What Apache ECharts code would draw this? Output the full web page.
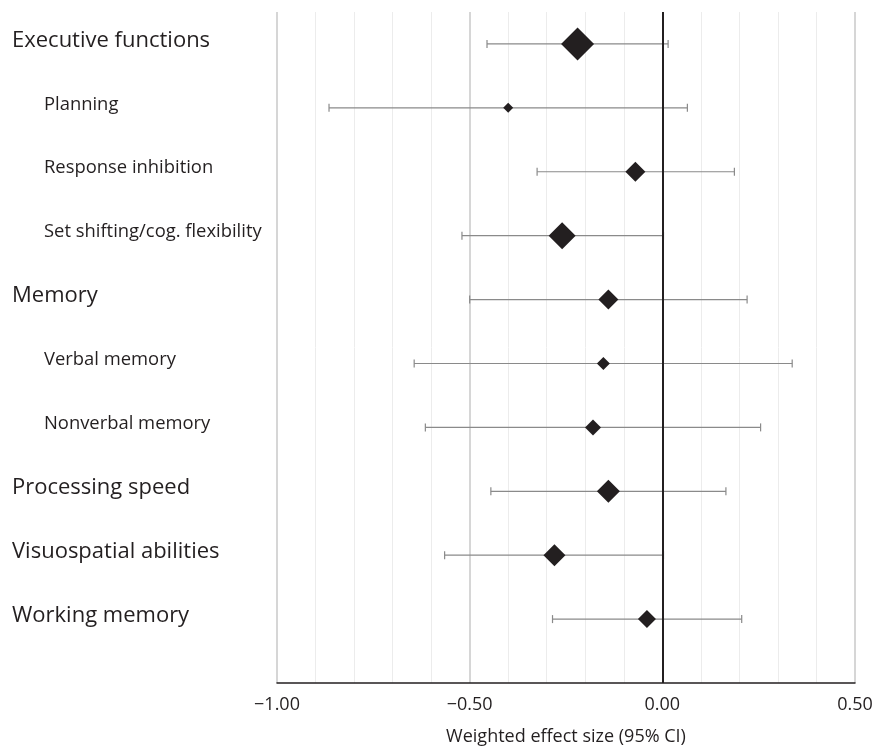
<!DOCTYPE html>
<html><head><meta charset="utf-8">
<script src="https://cdn.jsdelivr.net/npm/echarts@6/dist/echarts.min.js"></script>
<style>html,body{margin:0;padding:0;background:#fff}#c{width:875px;height:746px}</style>
</head><body><div id="c"></div>
<script>
const categories = ['Executive functions','Planning','Response inhibition','Set shifting/cog. flexibility','Memory','Verbal memory','Nonverbal memory','Processing speed','Visuospatial abilities','Working memory'];
const isSub = [false,true,true,true,false,true,true,false,false,false];
const effect = [-0.22,-0.40,-0.07,-0.26,-0.14,-0.153,-0.18,-0.14,-0.28,-0.04];
const ciLow  = [-0.455,-0.865,-0.325,-0.52,-0.50,-0.644,-0.615,-0.445,-0.565,-0.285];
const ciHigh = [0.015,0.065,0.187,0.003,0.22,0.337,0.255,0.165,0.003,0.206];
const weight = [33,10,20,27,20,13,16,23,22,18];
const xTicks = [-1.0,-0.5,0.0,0.5];

const font = '"Open Sans", sans-serif';
const ebData = categories.map((c,i)=>[ciLow[i],ciHigh[i],i+1]);
const ptData = categories.map((c,i)=>({value:[effect[i],i+1],symbolSize:[weight[i],weight[i]]}));

const chart = echarts.init(document.getElementById('c'));
chart.setOption({
  animation:false,
  grid:{left:277,right:20,top:12,bottom:63,containLabel:false,outerBoundsMode:'none'},
  xAxis:{type:'value',min:xTicks[0],max:xTicks[xTicks.length-1],interval:0.5,
    axisLine:{show:true,onZero:false,lineStyle:{color:'#231f20',width:1.5}},
    axisTick:{show:false},
    axisLabel:{color:'#231f20',fontSize:18,fontFamily:font,margin:13,
      formatter:v=>(v<0?'\u2212':'')+Math.abs(v).toFixed(2)},
    splitLine:{show:true,lineStyle:{color:'#c8c8c8',width:1.5}},
    minorTick:{show:false,splitNumber:5},
    minorSplitLine:{show:true,lineStyle:{color:'#ececec',width:1}},
    name:'Weighted effect size (95% CI)',nameLocation:'middle',nameGap:45,
    nameTextStyle:{color:'#231f20',fontSize:18,fontFamily:font}},
  yAxis:{type:'value',inverse:true,min:0.5,max:11,interval:0.5,
    axisLine:{show:false},axisTick:{show:false},splitLine:{show:false},
    axisLabel:{show:true,align:'left',margin:265,
      formatter:v=>{ if(!Number.isInteger(v)||v<1||v>categories.length) return '';
        const i=v-1; return isSub[i]?'{s|'+categories[i]+'}':'{m|'+categories[i]+'}';},
      rich:{m:{fontSize:22,fontFamily:font,color:'#231f20',padding:[0,0,7,0]},
            s:{fontSize:18.4,fontFamily:font,color:'#231f20',padding:[0,0,7,32]}}}},
  series:[
    {type:'custom',data:ebData,encode:{x:[0,1],y:2},z:2,
     renderItem:(params,api)=>{
       const a=api.coord([api.value(0),api.value(2)]);
       const b=api.coord([api.value(1),api.value(2)]);
       const h=4;
       const st={stroke:'#8a8a8a',lineWidth:1.2};
       return {type:'group',children:[
         {type:'line',shape:{x1:a[0],y1:a[1],x2:b[0],y2:b[1]},style:st},
         {type:'line',shape:{x1:a[0],y1:a[1]-h,x2:a[0],y2:a[1]+h},style:st},
         {type:'line',shape:{x1:b[0],y1:b[1]-h,x2:b[0],y2:b[1]+h},style:st}]};
     }},
    {type:'scatter',data:ptData,symbol:'diamond',z:4,
     itemStyle:{color:'#231f20',opacity:1},
     markLine:{silent:true,symbol:['none','none'],label:{show:false},
       lineStyle:{color:'#231f20',width:2,type:'solid'},data:[{xAxis:0}]}}
  ]
});
</script></body></html>
